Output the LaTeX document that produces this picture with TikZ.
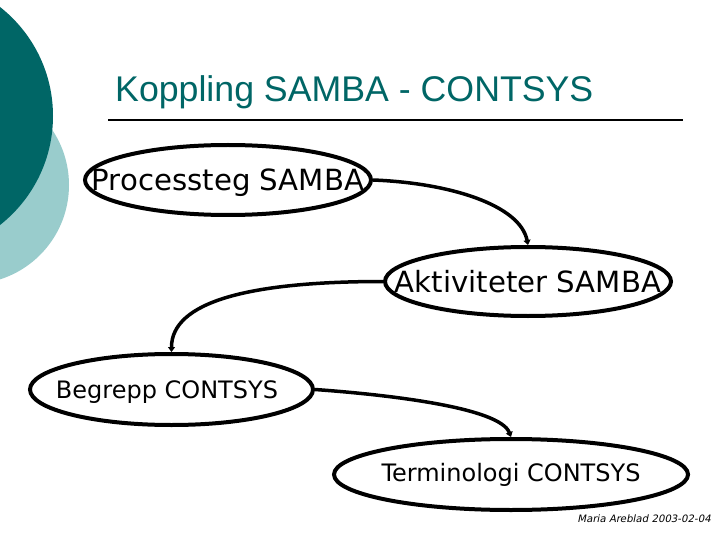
\documentclass[tikz,border=0pt]{standalone}
\usepackage{fontspec}
\setmainfont{DejaVu Sans}
\newfontfamily\titlefont{Liberation Sans}
\newfontfamily\footfont{DejaVu Sans}[FakeSlant=0.2]
\usetikzlibrary{shapes.geometric,arrows.meta}
\definecolor{darkteal}{RGB}{0,102,102}
\definecolor{lightteal}{RGB}{153,204,204}
\tikzset{
  oval/.style={ellipse, draw=black, line width=4pt, inner sep=0pt},
  bigtext/.style={inner sep=0pt, font=\fontsize{29.2}{32}\selectfont, text height=21.3pt, text depth=0pt},
  smalltext/.style={inner sep=0pt, font=\fontsize{24}{28}\selectfont, text height=17.5pt, text depth=0pt},
  conn/.style={line width=3.5pt, -{Triangle[length=5pt,width=7pt]}},
}
\begin{document}
\begin{tikzpicture}[x=1pt,y=-1pt]
\useasboundingbox (0,0) rectangle (720,540);
\clip (0,0) rectangle (720,540);
\fill[white] (0,0) rectangle (720,540);
% decorative circles
\fill[lightteal] (-30,185) circle[radius=99];
\fill[darkteal] (-85.6,116) circle[radius=138.6];
% title
\node[anchor=base west, inner sep=0pt, text=darkteal, font=\titlefont\fontsize{35.7}{40}\selectfont] (title) at (115,102) {Koppling SAMBA - CONTSYS};
\coordinate (rulel) at (108,120);
\coordinate (ruler) at (683,120);
\draw[line width=2pt] (rulel) -- (ruler);
% nodes
\node[oval, minimum width=286, minimum height=70, label={[bigtext]center:Processteg SAMBA}] (p) at (228,180) {};
\node[oval, minimum width=286, minimum height=69, label={[bigtext]center:Aktiviteter SAMBA}] (a) at (528,281.5) {};
\node[oval, minimum width=283, minimum height=71, label={[smalltext, xshift=-4.5pt]center:Begrepp CONTSYS}] (b) at (171.5,389.5) {};
\node[oval, minimum width=354, minimum height=71, label={[smalltext, yshift=2pt]center:Terminologi CONTSYS}] (t) at (511,474.5) {};
% connectors
\draw[conn] (p.east) .. controls +(77,3) and +(-8,-40) .. (a.north);
\draw[conn] (a.west) .. controls +(-135,0) and +(0,-50) .. (b.north);
\draw[conn] (b.east) .. controls +(77,5.5) and +(-11,-29) .. (t.north);
% footer
\node[anchor=base east, inner sep=0pt, font=\footfont\fontsize{10.2}{12}\selectfont] (foot) at (711,522) {Maria Areblad 2003-02-04};
\end{tikzpicture}
\end{document}
